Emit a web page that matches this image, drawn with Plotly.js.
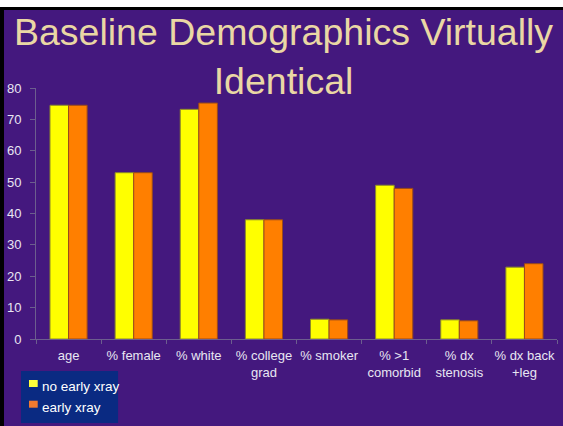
<!DOCTYPE html>
<html><head><meta charset="utf-8">
<script src="https://cdn.plot.ly/plotly-3.0.1.min.js"></script>
<style>
html,body{margin:0;padding:0;background:#fff;width:563px;height:426px;overflow:hidden}
#frame{position:absolute;left:0;top:7px;width:559px;height:416px;border-top:3px solid #000;border-left:4px solid #000;background:#44187E}
#chart{width:559px;height:416px}
</style></head><body>
<div id="frame"><div id="chart"></div></div>
<script>
const categories = ["age","% female","% white","% college<br>grad","% smoker","% >1<br>comorbid","% dx<br>stenosis","% dx back<br>+leg"];
const noEarlyXray = [74.5,53,73.2,38,6.3,49,6.1,22.9];
const earlyXray = [74.5,53,75.2,38,6.1,48,5.8,24];
const seriesNames = ["no early xray","early xray"];
const seriesColors = ["#FFFF00","#FF7F00"];
const legendColors = ["#FFFF3A","#F07A30"];
const yTicks = [0,10,20,30,40,50,60,70,80];

const purple = "#44187E";
const traces = [
  {type:"bar", x:categories, y:noEarlyXray, name:seriesNames[0],
   marker:{color:seriesColors[0], line:{color:"#8C8A2A", width:1}}},
  {type:"bar", x:categories, y:earlyXray, name:seriesNames[1],
   marker:{color:seriesColors[1], line:{color:"#9A4A1A", width:1}}}
];
// custom legend (box, swatches, labels)
const legendRows = [{y0:-0.1633, y1:-0.1912, ty:-0.1873},{y0:-0.2458, y1:-0.2737, ty:-0.271}];
const shapes = [{type:"rect", xref:"paper", yref:"paper", x0:-0.0288, x1:0.1575, y0:-0.1275, y1:-0.3347,
                 fillcolor:"#0A2A82", line:{width:0}, layer:"above"}];
const annotations = [];
legendRows.forEach((r,i)=>{
  shapes.push({type:"rect", xref:"paper", yref:"paper", x0:-0.0134, x1:0.0033, y0:r.y0, y1:r.y1,
               fillcolor:legendColors[i], line:{width:0}, layer:"above"});
  annotations.push({xref:"paper", yref:"paper", x:0.0077, y:r.ty, xanchor:"left", yanchor:"middle",
                    text:seriesNames[i], showarrow:false, font:{size:13.5, color:"#FFFFFF"}});
});
const layout = {
  width:559, height:416,
  margin:{l:32, r:6, t:78, b:87},
  paper_bgcolor:purple, plot_bgcolor:purple,
  font:{family:"Arial, Liberation Sans, sans-serif", color:"#E8E6F2", size:13},
  title:{text:"Baseline Demographics Virtually<br>Identical", x:0.5, xref:"container", xanchor:"center",
         y:1, yref:"container", yanchor:"top", pad:{t:35},
         font:{family:"Arial, Liberation Sans, sans-serif", size:37.5, color:"#EAD7A4"}},
  barmode:"group", bargap:0.43, bargroupgap:0,
  xaxis:{type:"category", showline:true, linecolor:"#6C5E8E", linewidth:1, ticks:"outside", tickson:"boundaries",
         ticklen:4, tickcolor:"#6C5E8E", showgrid:false, zeroline:false, tickangle:0,
         tickfont:{size:13, color:"#E8E6F2"}, ticklabelstandoff:4},
  yaxis:{range:[0,80], tickvals:yTicks, showline:true, linecolor:"#6C5E8E", linewidth:1, ticks:"outside", ticklen:5,
         tickcolor:"#6C5E8E", showgrid:false, zeroline:false, tickfont:{size:13, color:"#E8E6F2"}, ticklabelstandoff:6},
  showlegend:false,
  shapes:shapes, annotations:annotations
};
Plotly.newPlot("chart", traces, layout, {displayModeBar:false, staticPlot:true});
</script></body></html>
